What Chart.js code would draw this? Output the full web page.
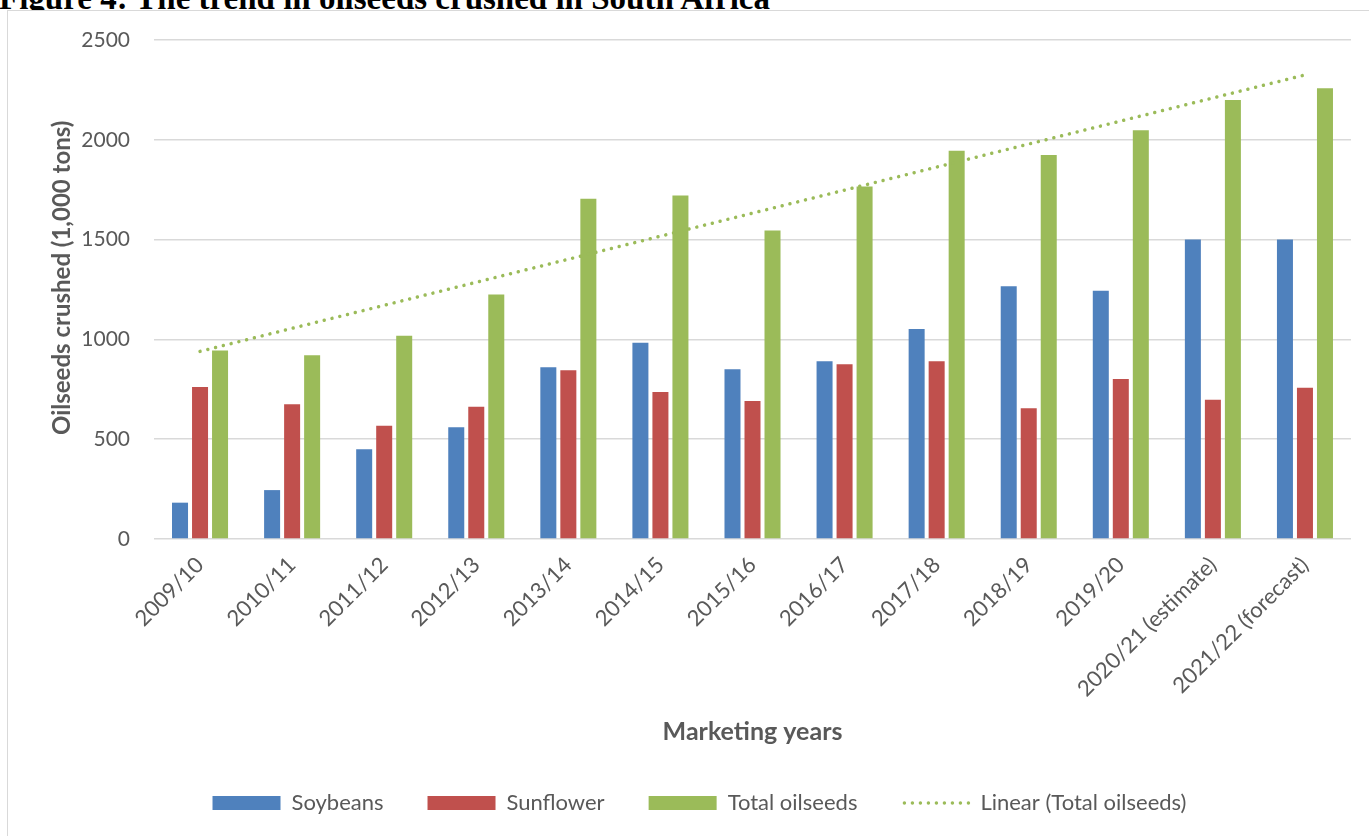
<!DOCTYPE html>
<html>
<head>
<meta charset="utf-8">
<script src="https://cdn.jsdelivr.net/npm/chart.js@4"></script>
<style>
body { margin:0; background:#fff; overflow:hidden; width:1369px; height:836px; position:relative; }
#caption { position:absolute; left:-1px; top:-18px; font:bold 33px "Liberation Serif"; line-height:33px; white-space:nowrap; color:#000; }
#frame { position:absolute; left:7px; top:10px; width:1400px; height:900px; border:1px solid #d9d9d9; background:#fff; }
#chart { display:block; }
</style>
</head>
<body>
<div id="caption">Figure 4: The trend in oilseeds crushed in South Africa</div>
<div id="frame"><canvas id="chart" width="1380" height="830" style="width:1380px;height:830px"></canvas></div>
<script>
const years = ['2009/10', '2010/11', '2011/12', '2012/13', '2013/14', '2014/15', '2015/16',
    '2016/17', '2017/18', '2018/19', '2019/20', '2020/21 (estimate)', '2021/22 (forecast)'];
const soybeans = [182, 245, 450, 560, 860, 983, 850, 890, 1052, 1266, 1244, 1500, 1500];
const sunflower = [762, 675, 568, 662, 845, 736, 692, 876, 890, 655, 802, 698, 758];
const totalOilseeds = [945, 921, 1018, 1225, 1705, 1721, 1546, 1766, 1945, 1924, 2048, 2200, 2258];
// end points of the linear trend line
const trendEnds = [940, 2325];
const yTicks = [0, 500, 1000, 1500, 2000, 2500];

const textColor = '#595959';
const gridColor = '#d9d9d9';
const trendColor = '#9BBB59';
const baseFont = 'Lato';

const trendLegendDots = {
    id: 'trendLegendDots',
    afterDraw(chart){
        const legend = chart.legend;
        if(!legend || !legend.legendItems) return;
        const idx = legend.legendItems.findIndex(item => item.datasetIndex === 3);
        const box = legend.legendHitBoxes[idx];
        if(!box) return;
        const ctx = chart.ctx;
        const y = box.top + box.height / 2;
        ctx.save();
        ctx.strokeStyle = trendColor;
        ctx.lineWidth = 3.5;
        ctx.lineCap = 'round';
        ctx.setLineDash([0.001, 8]);
        ctx.beginPath();
        ctx.moveTo(box.left + 3, y);
        ctx.lineTo(box.left + 68, y);
        ctx.stroke();
        ctx.restore();
    }
};

function barSet(label, values, color){
    return {
        label: label,
        data: values,
        backgroundColor: color,
        borderWidth: 0,
        categoryPercentage: 0.652,
        barPercentage: 0.8,
        order: 1
    };
}

function displayChart(){
    const ctx = document.getElementById('chart');
    new Chart(ctx, {
        type: 'bar',
        data: {
            labels: years,
            datasets: [
                barSet('Soybeans', soybeans, '#4F81BD'),
                barSet('Sunflower', sunflower, '#C0504D'),
                barSet('Total oilseeds', totalOilseeds, '#9BBB59'),
                {
                    type: 'line',
                    label: 'Linear (Total oilseeds)',
                    data: [
                        {x: years[0], y: trendEnds[0]},
                        {x: years[years.length - 1], y: trendEnds[1]}
                    ],
                    borderColor: trendColor,
                    backgroundColor: trendColor,
                    borderWidth: 3.5,
                    borderDash: [0.001, 8],
                    borderCapStyle: 'round',
                    pointRadius: 0,
                    fill: false,
                    order: 0
                }
            ]
        },
        options: {
            responsive: false,
            animation: false,
            layout: {padding: {left: 40, right: 37, top: 29, bottom: 17}},
            plugins: {
                tooltip: {enabled: false},
                legend: {
                    position: 'bottom',
                    labels: {
                        color: textColor,
                        font: {family: baseFont, size: 22},
                        boxWidth: 68,
                        boxHeight: 14,
                        padding: 44,
                        sort: (a, b) => a.datasetIndex - b.datasetIndex,
                        generateLabels(chart){
                            const items = Chart.defaults.plugins.legend.labels.generateLabels(chart);
                            items.forEach(item => {
                                if(item.datasetIndex === 3){
                                    item.fillStyle = 'rgba(0,0,0,0)';
                                    item.strokeStyle = 'rgba(0,0,0,0)';
                                    item.lineWidth = 0;
                                    item.lineDash = [];
                                }
                            });
                            return items;
                        }
                    }
                }
            },
            scales: {
                x: {
                    grid: {display: false, drawTicks: false},
                    border: {display: false},
                    ticks: {
                        color: textColor,
                        font: {family: baseFont, size: 22},
                        minRotation: 45,
                        maxRotation: 45,
                        autoSkip: false,
                        padding: 13
                    },
                    title: {
                        display: true,
                        text: 'Marketing years',
                        color: textColor,
                        font: {family: baseFont, size: 25, weight: 'bold'},
                        padding: {top: 0, bottom: 1}
                    },
                    afterFit: scale => { scale.height = 209; }
                },
                y: {
                    min: 0,
                    max: yTicks[yTicks.length - 1],
                    grid: {color: gridColor, lineWidth: 1.5, drawTicks: false},
                    border: {display: false},
                    afterBuildTicks: scale => { scale.ticks = yTicks.map(v => ({value: v})); },
                    ticks: {
                        color: textColor,
                        font: {family: baseFont, size: 21},
                        padding: 24,
                        callback: value => String(value)
                    },
                    title: {
                        display: true,
                        // leading spaces nudge the rotated title upward a little
                        text: '    Oilseeds crushed (1,000 tons)',
                        color: textColor,
                        font: {family: baseFont, size: 24, weight: 'bold'},
                        padding: {top: 0, bottom: 0}
                    },
                    afterFit: scale => {
                        scale.width = 106;
                        scale.paddingTop = 0;
                        scale.paddingBottom = 0;
                    }
                }
            }
        },
        plugins: [trendLegendDots]
    });
}

window.onload = displayChart;
</script>
</body>
</html>
